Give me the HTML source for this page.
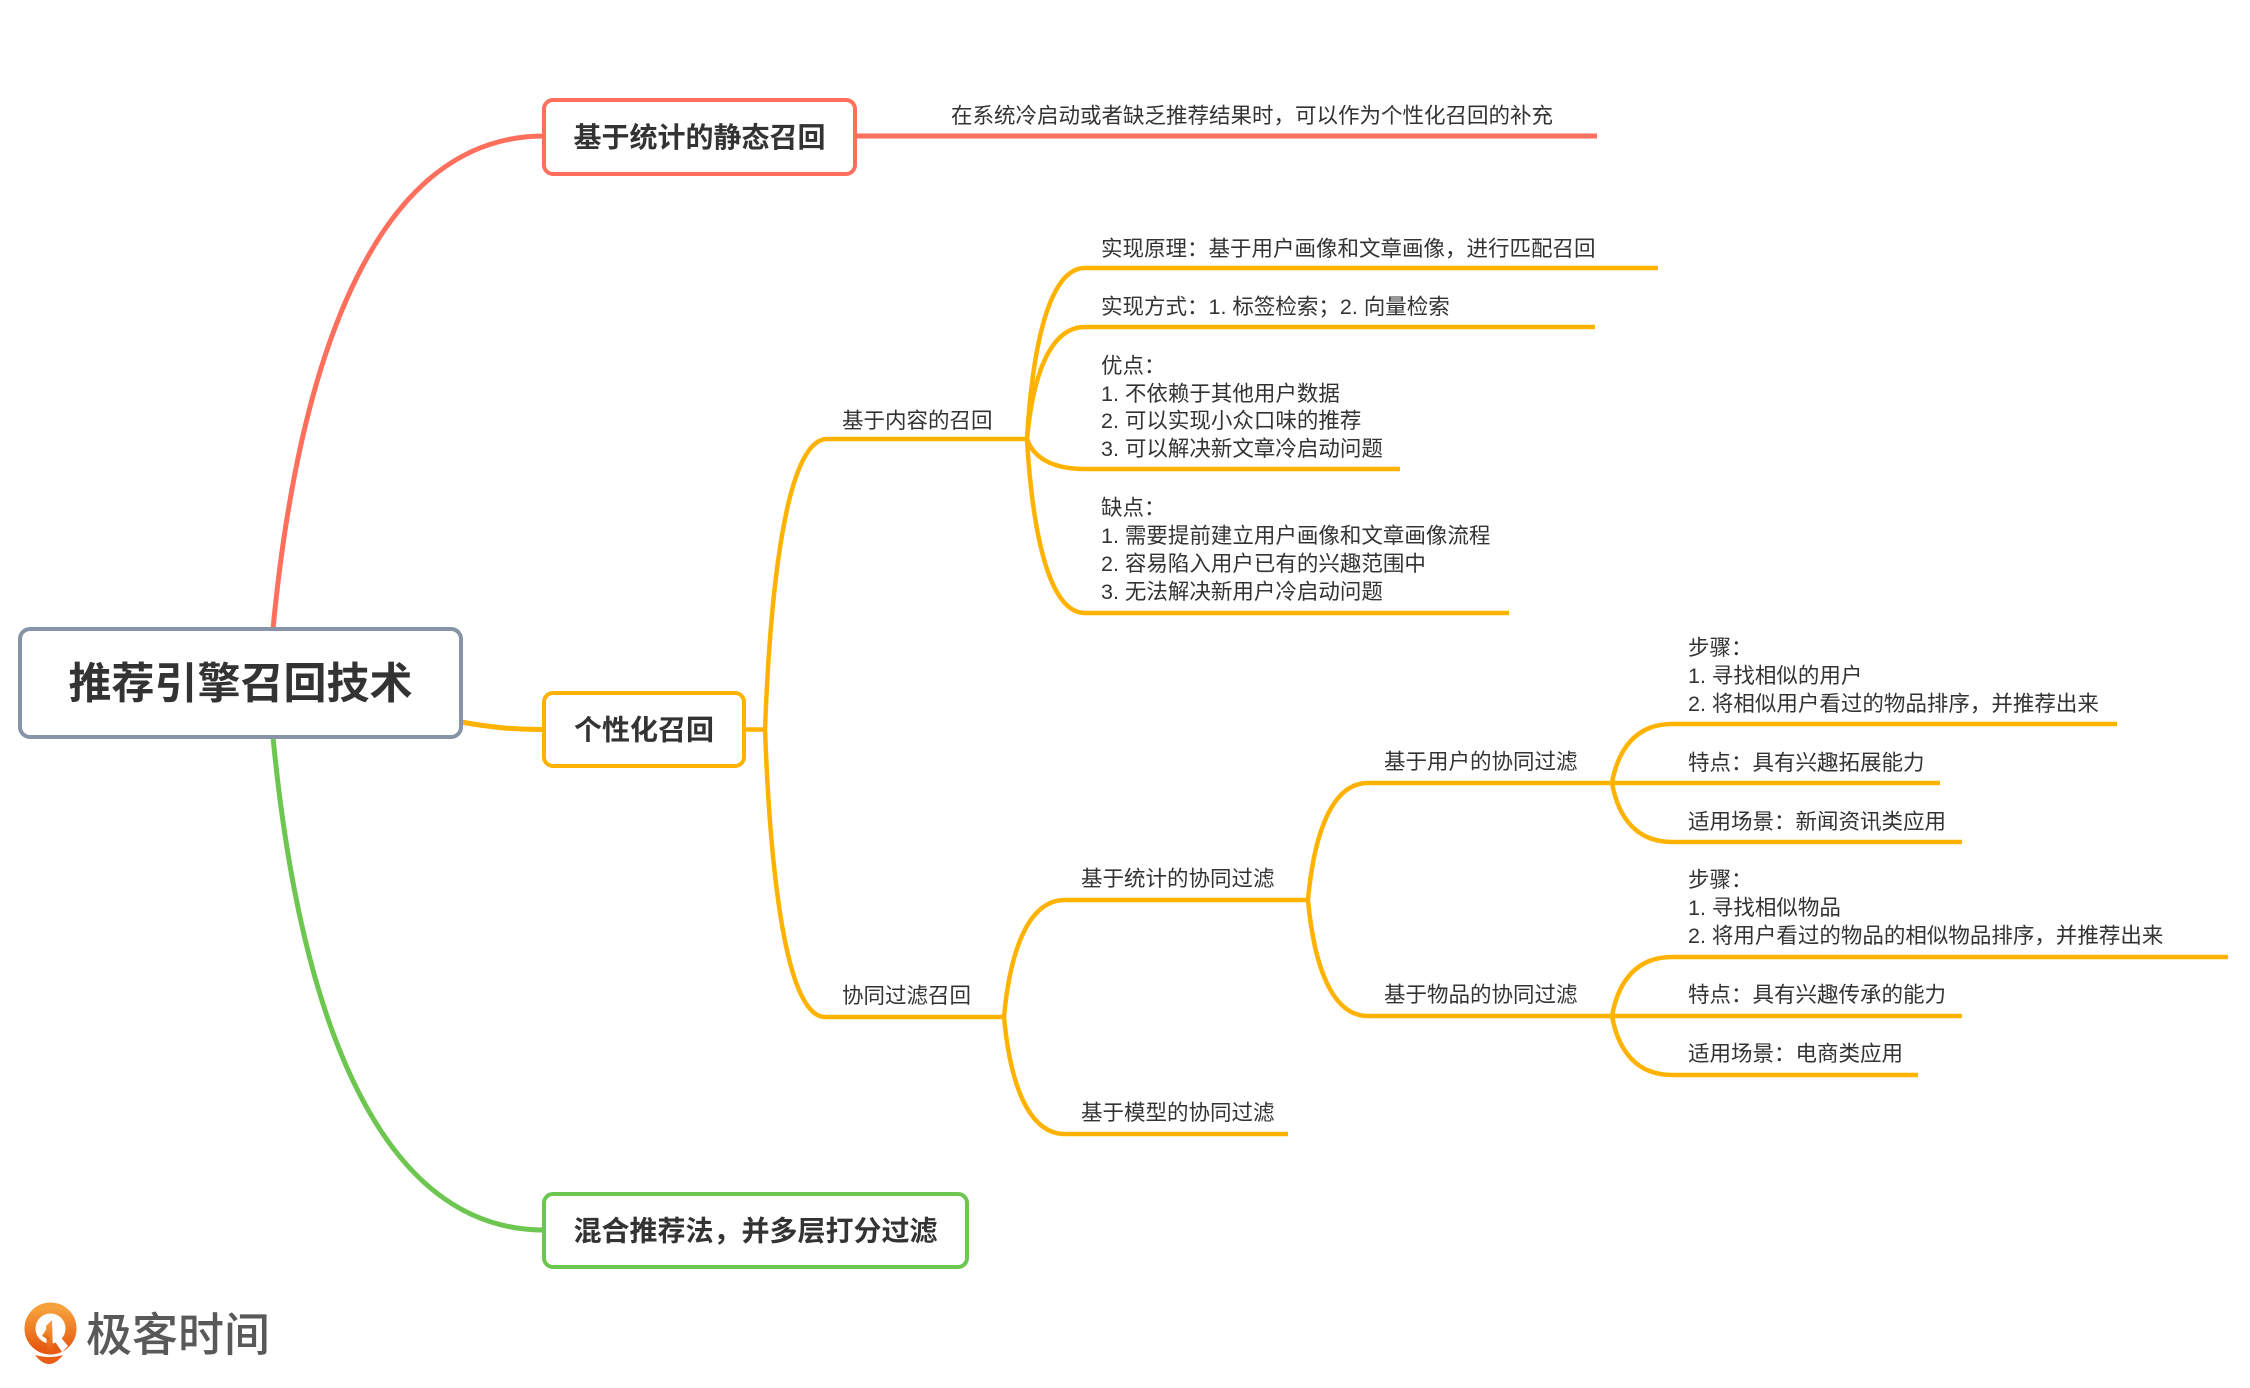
<!DOCTYPE html>
<html>
<head>
<meta charset="utf-8">
<style>
  html, body { margin: 0; padding: 0; background: #ffffff; }
  body { width: 2250px; height: 1388px; overflow: hidden; }
  svg { display: block; }
  .t { font-family: "Liberation Sans", "Noto Sans CJK SC", sans-serif; font-size: 21.5px; fill: #333333; }
  .b { font-family: "Liberation Sans", "Noto Sans CJK SC", sans-serif; font-weight: bold; fill: #333333; }
</style>
</head>
<body>
<svg width="2250" height="1388" viewBox="0 0 2250 1388" xmlns="http://www.w3.org/2000/svg">
  <defs>
    <linearGradient id="lg" x1="0" y1="0" x2="0" y2="1">
      <stop offset="0" stop-color="#f6a23c"/>
      <stop offset="1" stop-color="#e65a12"/>
    </linearGradient>
  </defs>

  <!-- main connectors -->
  <path d="M273,629 C300,347 380,136 544,136" fill="none" stroke="#ff6f5c" stroke-width="5"/>
  <path d="M273,737 C300,1019 380,1230 544,1230" fill="none" stroke="#6cc64f" stroke-width="5"/>
  <path d="M461,722 C495,728 515,729.5 544,729.5" fill="none" stroke="#ffb300" stroke-width="5"/>

  <!-- red child line -->
  <line x1="855" y1="136" x2="1597" y2="136" stroke="#ff6f5c" stroke-width="5"/>

  <g fill="none" stroke="#ffb300" stroke-width="4.5" stroke-linecap="butt">
    <!-- 个性化 -> children -->
    <line x1="744" y1="729.5" x2="766" y2="729.5"/>
    <path d="M765,729.5 C771.2,563.9 789.8,439 827,439 L1027,439"/>
    <path d="M765,729.5 C771,893.4 789,1017 825,1017 L1004,1017"/>

    <!-- 基于内容的召回 children -->
    <path d="M1027,439 C1032.8,341.5 1050.2,268 1085,268 L1658,268"/>
    <path d="M1027,439 C1032.8,375.2 1050.2,327 1085,327 L1595,327"/>
    <path d="M1027,439 C1032.8,456.1 1050.2,469 1085,469 L1400,469"/>
    <path d="M1027,439 C1032.8,538.2 1050.2,613 1085,613 L1509,613"/>

    <!-- 协同过滤召回 children -->
    <path d="M1004,1017 C1010.1,950.3 1028.4,900 1065,900 L1308,900"/>
    <path d="M1004,1017 C1010.1,1083.7 1028.4,1134 1065,1134 L1288,1134"/>

    <!-- 基于统计的协同过滤 children -->
    <path d="M1308,900 C1314,833.3 1332,783 1368,783 L1612,783"/>
    <path d="M1308,900 C1314,966.1 1332,1016 1368,1016 L1612,1016"/>

    <!-- 基于用户 children -->
    <path d="M1612,783 C1618,749.4 1636,724 1672,724 L2117,724"/>
    <line x1="1610" y1="783" x2="1940" y2="783"/>
    <path d="M1612,783 C1618,816.6 1636,842 1672,842 L1962,842"/>

    <!-- 基于物品 children -->
    <path d="M1612,1016 C1618,982.4 1636,957 1672,957 L2228,957"/>
    <line x1="1610" y1="1016" x2="1962" y2="1016"/>
    <path d="M1612,1016 C1618,1049.6 1636,1075 1672,1075 L1918,1075"/>
  </g>

  <!-- boxes -->
  <rect x="20" y="629" width="441" height="108" rx="10" ry="10" fill="#ffffff" stroke="#8794a8" stroke-width="4"/>
  <rect x="544" y="100" width="311" height="74" rx="9" ry="9" fill="#ffffff" stroke="#ff6f5c" stroke-width="4"/>
  <rect x="544" y="693" width="200" height="73" rx="9" ry="9" fill="#ffffff" stroke="#ffb300" stroke-width="4"/>
  <rect x="544" y="1194" width="423" height="73" rx="9" ry="9" fill="#ffffff" stroke="#6cc64f" stroke-width="4"/>

  <!-- box titles -->
  <text class="b" x="240.5" y="698.5" font-size="43" text-anchor="middle">推荐引擎召回技术</text>
  <text class="b" x="699.5" y="147" font-size="28" text-anchor="middle">基于统计的静态召回</text>
  <text class="b" x="644" y="739.5" font-size="28" text-anchor="middle">个性化召回</text>
  <text class="b" x="755.5" y="1240.5" font-size="28" text-anchor="middle">混合推荐法，并多层打分过滤</text>

  <!-- labels -->
  <text class="t" x="951" y="123">在系统冷启动或者缺乏推荐结果时，可以作为个性化召回的补充</text>

  <text class="t" x="842" y="428">基于内容的召回</text>
  <text class="t" x="1101" y="256">实现原理：基于用户画像和文章画像，进行匹配召回</text>
  <text class="t" x="1101" y="314">实现方式：1. 标签检索；2. 向量检索</text>
  <text class="t" x="1101" y="373">优点：</text>
  <text class="t" x="1101" y="401">1. 不依赖于其他用户数据</text>
  <text class="t" x="1101" y="428">2. 可以实现小众口味的推荐</text>
  <text class="t" x="1101" y="456">3. 可以解决新文章冷启动问题</text>
  <text class="t" x="1101" y="515">缺点：</text>
  <text class="t" x="1101" y="543">1. 需要提前建立用户画像和文章画像流程</text>
  <text class="t" x="1101" y="571">2. 容易陷入用户已有的兴趣范围中</text>
  <text class="t" x="1101" y="599">3. 无法解决新用户冷启动问题</text>

  <text class="t" x="842" y="1003">协同过滤召回</text>
  <text class="t" x="1081" y="886">基于统计的协同过滤</text>
  <text class="t" x="1081" y="1120">基于模型的协同过滤</text>
  <text class="t" x="1384" y="769">基于用户的协同过滤</text>
  <text class="t" x="1384" y="1002">基于物品的协同过滤</text>

  <text class="t" x="1688" y="655">步骤：</text>
  <text class="t" x="1688" y="683">1. 寻找相似的用户</text>
  <text class="t" x="1688" y="711">2. 将相似用户看过的物品排序，并推荐出来</text>
  <text class="t" x="1688" y="770">特点：具有兴趣拓展能力</text>
  <text class="t" x="1688" y="829">适用场景：新闻资讯类应用</text>

  <text class="t" x="1688" y="887">步骤：</text>
  <text class="t" x="1688" y="915">1. 寻找相似物品</text>
  <text class="t" x="1688" y="943">2. 将用户看过的物品的相似物品排序，并推荐出来</text>
  <text class="t" x="1688" y="1002">特点：具有兴趣传承的能力</text>
  <text class="t" x="1688" y="1061">适用场景：电商类应用</text>

  <!-- logo -->
  <g>
    <circle cx="50.5" cy="1328.5" r="20.5" fill="none" stroke="url(#lg)" stroke-width="11"/>
    <path d="M52,1337 L62,1352 L68,1346 L58,1334 Z" fill="#ffffff"/>
    <path d="M46,1326 L52,1320 L53,1353 L47,1353 Z" fill="url(#lg)"/>
    <path d="M42,1336 L47,1328 L49,1340 Z" fill="url(#lg)"/>
    <path d="M35,1355 Q49,1359 63,1355 Q56,1364 49,1364 Q42,1364 35,1355 Z" fill="#e85e16"/>
  </g>
  <text x="86" y="1351" font-family="'Liberation Sans', 'Noto Sans CJK SC', sans-serif" font-size="46" font-weight="500" fill="#595959">极客时间</text>
</svg>
</body>
</html>
